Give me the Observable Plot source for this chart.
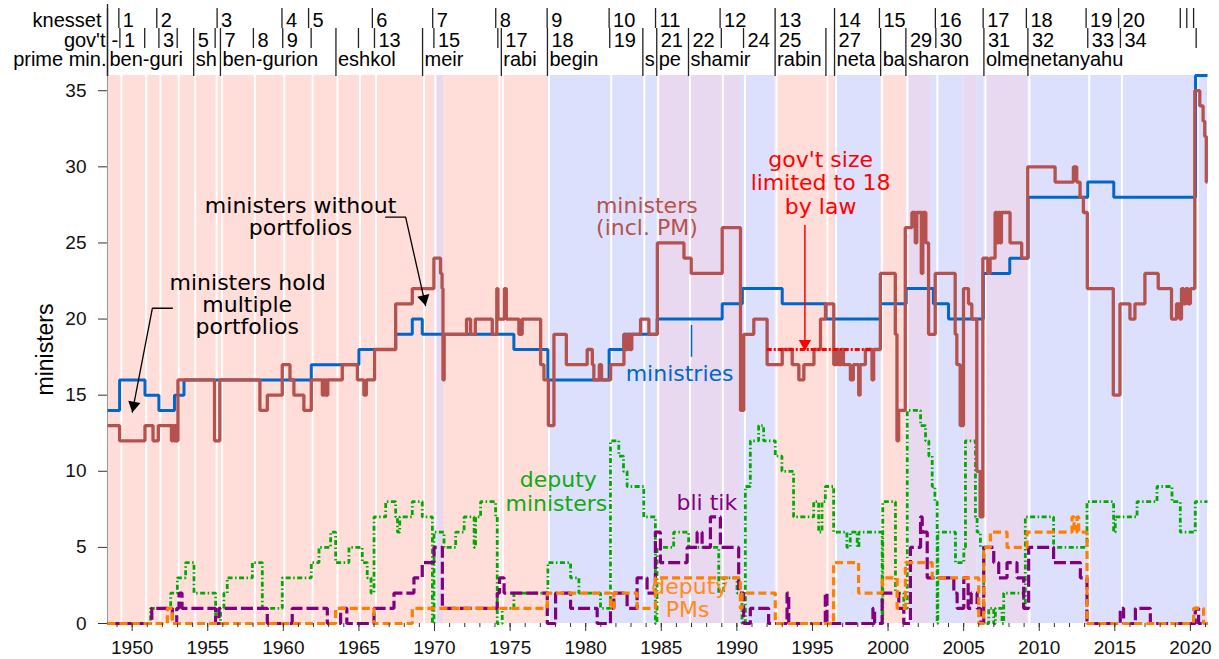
<!DOCTYPE html>
<html><head><meta charset="utf-8">
<script src="https://cdn.jsdelivr.net/npm/d3@7"></script>
<script src="https://cdn.jsdelivr.net/npm/@observablehq/plot@0.6"></script>
<style>body{margin:0;background:#fff}svg{display:block}</style>
</head><body><div id="chart"></div>
<script>
// ---------------- data ----------------
const xStart = 1948.37, xEnd = 2021.13, yTop = 36;

const knessetStarts = [1948.37,1949.12,1951.63,1955.62,1959.91,1961.67,1965.89,1969.88,1974.05,1977.45,1981.55,1984.62,1988.89,1992.53,1996.46,1999.43,2003.13,2006.29,2009.15,2013.1,2015.25,2019.33,2019.76,2020.21];
const knessetLabels = ["","1","2","3","4","5","6","7","8","9","10","11","12","13","14","15","16","17","18","19","20","","",""];

const govStarts = [1948.37,1949.19,1950.83,1951.77,1952.98,1954.07,1955.49,1955.84,1958.02,1959.96,1961.84,1963.48,1964.97,1966.03,1969.21,1969.96,1974.19,1974.42,1977.47,1981.59,1983.78,1984.70,1986.80,1988.97,1990.44,1992.53,1995.89,1996.46,1999.51,2001.18,2003.16,2006.34,2009.25,2013.21,2015.37,2020.38];
const govLabels = ["-","1","","3","","5","","7","8","9","","","","13","","15","","17","18","19","","21","22","","24","25","","27","","29","30","31","32","33","34",""];

const pmStarts = [1948.37,1954.07,1955.84,1963.48,1969.21,1974.42,1977.47,1983.78,1984.70,1986.80,1992.53,1995.89,1996.46,1999.51,2001.18,2006.34,2009.25];
const pmLabels = ["ben-guri","sh","ben-gurion","eshkol","meir","rabi","begin","s","pe","shamir","rabin","","neta","ba","sharon","olme","netanyahu"];

// coalition type of each period: L = labor-led, R = likud-led, U = both
const bandStarts = [1948.37,1969.96,1970.6,1977.47,1984.70,1990.24,1992.53,1996.46,1999.51,2001.18,2002.81,2005.01,2005.9,2006.34,2009.25];
const bandKinds  = ["L","U","L","R","U","R","L","R","L","U","R","U","R","U","R"];

const ministries = [[1948.37,14],[1949.17,16],[1950.85,15],[1951.77,14],[1952.8,15],[1953.43,16],[1961.85,17],[1965.0,18],[1967.43,19],[1968.53,20],[1969.19,19],[1975.25,18],[1977.5,16],[1981.55,18],[1982.53,19],[1984.73,20],[1989.03,21],[1990.36,22],[1993.0,21],[1995.9,20],[1999.5,21],[2001.2,22],[2003.0,21],[2004.0,20],[2006.3,23],[2008.05,24],[2009.27,28],[2013.21,29],[2014.93,28],[2020.34,36]];

const ministers = [[1948.37,13],[1949.17,12],[1950.85,13],[1951.38,12],[1951.73,13],[1952.6,12],[1952.68,13],[1952.76,12],[1952.84,13],[1952.9,12],[1953.03,16],[1955.45,12],[1955.8,16],[1958.45,14],[1958.94,15],[1959.93,17],[1960.44,16],[1960.7,15],[1961.36,14],[1961.85,16],[1962.58,15],[1962.66,16],[1962.74,15],[1962.82,16],[1962.88,15],[1962.94,16],[1963.9,17],[1964.9,16],[1965.33,15],[1965.49,16],[1966.04,18],[1967.43,21],[1968.53,22],[1969.96,24],[1970.4,23],[1970.5,22],[1970.56,16],[1970.64,19],[1972.12,20],[1972.39,19],[1972.7,20],[1973.82,19],[1974.12,22],[1974.2,20],[1974.62,22],[1974.75,20],[1975.58,19],[1975.8,20],[1977.02,17],[1977.24,16],[1977.53,13],[1977.9,19],[1978.72,17],[1980.1,18],[1980.44,17],[1980.54,16],[1980.9,17],[1981.05,16],[1981.65,17],[1982.53,19],[1982.65,18],[1982.78,19],[1982.92,18],[1983.05,19],[1983.63,20],[1984.18,19],[1984.74,25],[1986.5,24],[1986.98,23],[1989.03,26],[1990.24,14],[1990.46,19],[1991.12,20],[1992.0,17],[1993.0,18],[1993.66,17],[1994.1,16],[1994.43,17],[1995.1,18],[1995.53,20],[1995.86,21],[1996.41,17],[1996.6,18],[1996.75,17],[1996.9,18],[1997.05,17],[1997.51,16],[1997.7,17],[1998.06,15],[1998.15,17],[1998.5,18],[1998.94,16],[1999.05,18],[1999.49,23],[2000.48,19],[2000.59,12],[2000.7,14],[2001.14,26],[2001.58,27],[2001.8,25],[2001.9,27],[2002.2,23],[2002.3,27],[2002.5,25],[2002.68,19],[2003.12,23],[2004.44,19],[2004.55,17],[2004.77,13],[2004.99,22],[2005.32,21],[2005.54,20],[2005.87,10],[2006.09,7],[2006.27,24],[2006.6,23],[2006.75,24],[2007.08,27],[2007.2,25],[2007.3,27],[2007.41,25],[2007.5,27],[2008.07,25],[2008.84,24],[2009.24,30],[2011.05,29],[2012.26,30],[2012.48,29],[2012.7,28],[2012.92,27],[2013.18,22],[2014.9,15],[2015.34,21],[2016.0,20],[2016.33,21],[2016.99,23],[2017.87,22],[2018.75,20],[2019.08,21],[2019.3,20],[2019.41,22],[2019.55,21],[2019.7,22],[2019.85,21],[2020.0,22],[2020.29,35],[2020.62,34],[2020.84,33],[2020.95,32],[2021.05,29]];

const deputyMinisters = [[1948.37,0],[1951.22,1],[1952.55,2],[1952.99,3],[1953.54,4],[1954.09,2],[1955.52,0],[1955.85,1],[1956.07,2],[1956.29,3],[1957.95,4],[1958.61,1],[1959.93,3],[1961.85,4],[1962.36,5],[1963.13,6],[1963.46,4],[1964.34,5],[1965.22,4],[1965.55,3],[1965.8,2],[1966.0,7],[1966.77,8],[1967.43,7],[1967.55,6],[1967.7,7],[1968.53,8],[1969.19,7],[1969.86,0],[1969.97,6],[1970.63,5],[1971.4,6],[1971.96,7],[1972.62,5],[1972.72,7],[1973.05,8],[1974.04,7],[1974.15,0],[1974.48,1],[1975.25,2],[1977.5,4],[1979.0,3],[1979.55,2],[1980.98,1],[1981.64,12],[1982.19,11],[1982.5,10],[1982.74,9],[1983.84,7],[1984.61,0],[1984.72,5],[1985.82,6],[1986.81,5],[1988.8,2],[1989.13,3],[1990.01,2],[1990.34,0],[1990.56,9],[1990.89,12],[1991.44,13],[1991.77,12],[1992.54,11],[1992.98,10],[1993.75,7],[1995.08,8],[1995.41,6],[1995.63,8],[1995.85,9],[1996.4,6],[1997.28,5],[1997.5,6],[1997.96,5],[1998.07,6],[1999.61,0],[1999.65,8],[2000.49,2],[2001.04,1],[2001.27,14],[2002.15,13],[2002.48,12],[2002.7,11],[2002.92,9],[2003.1,8],[2003.25,0],[2003.29,6],[2004.46,4],[2005.01,5],[2005.12,12],[2005.78,7],[2005.89,6],[2006.11,5],[2006.33,0],[2006.66,1],[2006.99,0],[2007.1,1],[2007.54,0],[2007.65,2],[2008.97,1],[2009.08,7],[2010.95,5],[2013.16,8],[2014.92,6],[2015.03,7],[2016.47,8],[2017.79,9],[2018.78,8],[2019.33,6],[2020.32,8]];

const bliTik = [[1948.37,0],[1951.3,1],[1952.66,0],[1952.95,1],[1953.1,2],[1953.3,1],[1955.52,0],[1955.74,1],[1958.94,0],[1960.59,1],[1962.91,0],[1963.79,1],[1964.2,0],[1966.0,1],[1967.32,2],[1968.64,3],[1969.19,4],[1969.97,5],[1970.52,1],[1974.15,2],[1974.3,3],[1974.6,2],[1977.46,0],[1978.01,2],[1979.0,1],[1980.76,0],[1981.64,1],[1981.86,2],[1982.74,1],[1983.4,3],[1984.06,2],[1984.61,6],[1984.94,4],[1986.71,5],[1987.37,6],[1987.7,5],[1988.25,7],[1988.91,5],[1990.12,2],[1990.45,0],[1990.89,1],[1992.1,0],[1993.32,2],[1993.43,0],[1995.85,2],[1995.96,0],[1999.0,1],[1999.11,0],[1999.61,2],[2000.71,1],[2001.04,0],[2001.48,5],[2002.15,7],[2002.26,6],[2002.59,3],[2004.35,2],[2004.57,1],[2005.01,3],[2005.3,1],[2005.5,2],[2005.89,1],[2006.11,0],[2006.33,5],[2006.99,4],[2007.32,3],[2007.87,4],[2008.53,3],[2008.97,1],[2009.3,5],[2010.95,4],[2012.72,3],[2013.16,0],[2015.36,1],[2015.58,0],[2016.36,1],[2017.35,0],[2020.32,1],[2020.54,0]];

const deputyPMs = [[1948.37,0],[1952.33,1],[1952.66,0],[1963.46,1],[1966.0,0],[1968.53,1],[1977.46,2],[1981.64,1],[1981.86,2],[1983.4,1],[1984.61,3],[1990.23,1],[1990.34,2],[1992.54,0],[1996.4,4],[1998.05,2],[1999.61,3],[2000.6,1],[2001.15,4],[2002.92,3],[2006.0,0],[2006.33,5],[2006.77,6],[2007.87,5],[2009.19,6],[2012.17,7],[2012.3,6],[2012.5,7],[2012.61,6],[2013.16,0],[2020.21,1],[2020.87,0]];

const lawLimit = 18, lawFrom = 1992.01, lawTo = 1998.95;

const xTicks = [1950,1955,1960,1965,1970,1975,1980,1985,1990,1995,2000,2005,2010,2015,2020];
const xMinorTicks = d3.range(1949, 2022);
const yTicks = [0,5,10,15,20,25,30,35];

// annotations (data coordinates)
const noteText  = ["ministers without","portfolios","ministers hold","multiple","portfolios","ministers","(incl. PM)","ministries","gov't size","limited to 18","by law","deputy","ministers","bli tik","deputy","PMs"];
const noteX     = [1961.14,1961.14,1957.64,1957.61,1957.61,1984.04,1984.05,1986.21,1995.54,1995.54,1995.54,1978.19,1978.06,1988.01,1986.89,1986.74];
const noteY     = [26.97,25.49,21.94,20.45,19.03,26.95,25.49,15.96,30.02,28.45,26.92,8.95,7.42,7.47,1.91,0.41];
const noteColor = ["#000","#000","#000","#000","#000","#b5524e","#b5524e","#0066cc","#ff0000","#ff0000","#ff0000","#11aa11","#11aa11","#800080","#ff8c1a","#ff8c1a"];

const arrowWithoutX = [1966.77,1968.09,1969.41], arrowWithoutY = [26.69,26.69,20.89];
const arrowHoldX = [1952.66,1951.34,1950.01], arrowHoldY = [20.71,20.71,13.88];
const arrowHeads = [{x:1969.31,y:21.33,rot:167.2},{x:1950.10,y:14.33,rot:190.9}];
const lawArrowX = 1994.50, lawArrowY1 = 26.15, lawArrowY2 = 17.94, lawHead = {x:1994.50,y:18.39,rot:180};
const ministriesTickX = 1987.0, ministriesTickY1 = 19.58, ministriesTickY2 = 17.49;

// ---------------- layout ----------------
const W = 1219, H = 659, M = {l:107, r:12, t:75, b:36};
const pxY = px => (H - M.b - px) * yTop / (H - M.b - M.t); // pixel row -> y units for header rows

const steps = pts => { const r = pts.map(([x,y]) => ({x,y})); r.push({x:xEnd, y:pts[pts.length-1][1]}); return r; };
const bands = bandStarts.map((s,i) => ({x1:s, x2: i+1 < bandStarts.length ? bandStarts[i+1] : xEnd, kind: bandKinds[i]}));
const bandFill = {L:"#ffddd9", R:"#dde0fc", U:"#e8d9f0"};
const kn = knessetStarts.map((x,i) => ({x, label: knessetLabels[i]}));
const gv = govStarts.map((x,i) => ({x, label: govLabels[i]}));
const pm = pmStarts.map((x,i) => ({x, label: pmLabels[i]}));

const SANS = "'Liberation Sans', Arial, sans-serif";
const NOTE = "'DejaVu Sans', sans-serif";

const seriesDefs = [
  {pts: deputyMinisters, stroke:"#00aa00", width:2.8, dash:"5,2.5,1.5,2.5"},
  {pts: bliTik,          stroke:"#800080", width:3.2, dash:"12,4"},
  {pts: deputyPMs,       stroke:"#ff8000", width:3.2, dash:"8,4"},
  {pts: ministries,      stroke:"#0066cc", width:3,   dash:null},
  {pts: ministers,       stroke:"#b5524e", width:3.3, dash:null}
];

const marks = [];
for (const k of ["L","R","U"]) marks.push(Plot.rect(bands.filter(b => b.kind === k), {x1:"x1", x2:"x2", y1:0, y2:yTop, fill: bandFill[k]}));
marks.push(Plot.ruleX(govStarts.slice(1), {stroke:"white", strokeWidth:2, dx:1.5}));
marks.push(Plot.ruleX([xStart], {stroke:"#999", strokeWidth:1}));
for (const s of seriesDefs) {
  const o = {x:"x", y:"y", curve:"step-after", stroke:s.stroke, strokeWidth:s.width, strokeLinejoin:"miter", strokeLinecap:"butt"};
  if (s.dash) o.strokeDasharray = s.dash;
  marks.push(Plot.line(steps(s.pts), o));
}
marks.push(Plot.ruleY([lawLimit], {x1: lawFrom, x2: lawTo, stroke:"#ff0000", strokeWidth:3, strokeDasharray:"5,2,2,2"}));

// annotation connectors and arrows
marks.push(Plot.line(arrowWithoutX.map((x,i)=>({x, y:arrowWithoutY[i]})), {x:"x", y:"y", stroke:"#000", strokeWidth:1.3}));
marks.push(Plot.line(arrowHoldX.map((x,i)=>({x, y:arrowHoldY[i]})), {x:"x", y:"y", stroke:"#000", strokeWidth:1.3}));
marks.push(Plot.dot(arrowHeads, {x:"x", y:"y", rotate:"rot", symbol:"triangle", r:4.6, fill:"#000", stroke:"none"}));
marks.push(Plot.ruleX([lawArrowX], {y1: lawArrowY1, y2: lawArrowY2, stroke:"#ff0000", strokeWidth:1.5}));
marks.push(Plot.dot([lawHead], {x:"x", y:"y", rotate:"rot", symbol:"triangle", r:4.6, fill:"#ff0000", stroke:"none"}));
marks.push(Plot.ruleX([ministriesTickX], {y1: ministriesTickY1, y2: ministriesTickY2, stroke:"#0066cc", strokeWidth:1.5}));
noteText.forEach((t,i) => marks.push(Plot.text([t], {x: noteX[i], y: noteY[i], text: d => d, fill: noteColor[i], fontSize: 22, fontFamily: NOTE, textAnchor:"middle", lineAnchor:"bottom"})));

// header rows
const hb = {stroke:"#222", strokeWidth:1.3};
marks.push(Plot.ruleX([xStart], {y1: pxY(4), y2: pxY(76), ...hb}));
marks.push(Plot.ruleX(kn, {x:"x", y1: pxY(8), y2: pxY(28), ...hb}));
marks.push(Plot.ruleX(gv, {x:"x", y1: pxY(28), y2: pxY(48), ...hb}));
marks.push(Plot.ruleX(pm, {x:"x", y1: pxY(48), y2: pxY(76), ...hb}));
const ht = {textAnchor:"start", lineAnchor:"bottom", fontSize:20, fontFamily: SANS, fill:"#000"};
marks.push(Plot.text(kn, {x:"x", y: pxY(26.7), text:"label", dx:4, ...ht}));
marks.push(Plot.text(gv, {x:"x", y: pxY(46), text:"label", dx:4, ...ht}));
marks.push(Plot.text(pm, {x:"x", y: pxY(65.3), text:"label", dx:2, ...ht}));
const rl = {x: xStart, textAnchor:"end", lineAnchor:"bottom", fontSize:20, fontFamily: SANS, fill:"#000", text: d => d};
marks.push(Plot.text(["knesset"], {y: pxY(26.7), dx:-6, ...rl}));
marks.push(Plot.text(["gov't"], {y: pxY(46), dx:-2, ...rl}));
marks.push(Plot.text(["prime min."], {y: pxY(65.3), dx:-1, ...rl}));

// y label
marks.push(Plot.text(["ministers"], {frameAnchor:"left", dx:-62, rotate:-90, text: d => d, textAnchor:"middle", lineAnchor:"middle", fontSize:23, fontFamily: SANS, fill:"#000"}));

const hasAxisMarks = typeof Plot.axisX === "function";
if (hasAxisMarks) {
  marks.push(Plot.axisX(xMinorTicks, {tickSize:4, tickFormat: () => "", label:null, stroke:"#333"}));
  marks.push(Plot.axisX(xTicks, {tickSize:8, tickPadding:9, tickFormat: d => String(d), fontSize:19, label:null, stroke:"#333", fill:"#111"}));
  marks.push(Plot.axisY(yTicks, {tickSize:9, tickPadding:12, fontSize:19, label:null, stroke:"#333", fill:"#111"}));
}

const chart = Plot.plot({
  width: W, height: H,
  marginLeft: M.l, marginRight: M.r, marginTop: M.t, marginBottom: M.b,
  style: {fontFamily: SANS, background: "white", overflow: "visible"},
  x: hasAxisMarks ? {domain:[xStart, xEnd], label:null} : {domain:[xStart, xEnd], ticks: xTicks, tickFormat: d => String(d), tickSize: 8, label:null},
  y: hasAxisMarks ? {domain:[0, yTop], label:null} : {domain:[0, yTop], ticks: yTicks, tickSize: 9, label:null},
  marks
});
document.getElementById("chart").appendChild(chart);
</script></body></html>
